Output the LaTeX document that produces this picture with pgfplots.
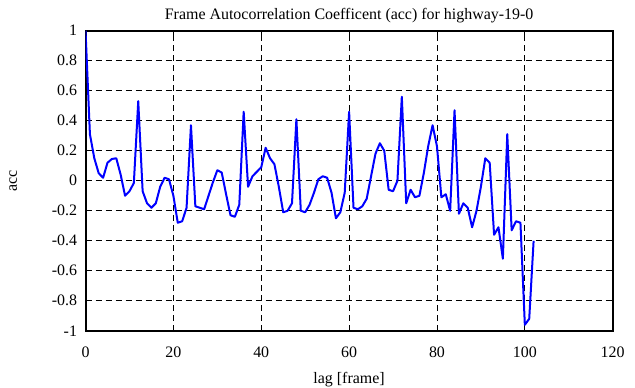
\documentclass[border=0pt]{standalone}
\usepackage{pgfplots}
\pgfplotsset{compat=1.18}
\usepackage{fontspec}
\setmainfont{Liberation Serif}
\pgfplotstableread{
lag acc
0 1.00
1 0.31
2 0.15
3 0.05
4 0.02
5 0.12
6 0.145
7 0.15
8 0.04
9 -0.10
10 -0.07
11 -0.015
12 0.53
13 -0.07
14 -0.15
15 -0.18
16 -0.15
17 -0.04
18 0.02
19 0.01
20 -0.10
21 -0.28
22 -0.27
23 -0.18
24 0.37
25 -0.17
26 -0.18
27 -0.19
28 -0.10
29 -0.01
30 0.07
31 0.055
32 -0.09
33 -0.23
34 -0.24
35 -0.16
36 0.46
37 -0.04
38 0.03
39 0.06
40 0.09
41 0.22
42 0.15
43 0.11
44 -0.04
45 -0.21
46 -0.20
47 -0.15
48 0.41
49 -0.20
50 -0.21
51 -0.16
52 -0.08
53 0.01
54 0.03
55 0.02
56 -0.08
57 -0.25
58 -0.21
59 -0.08
60 0.46
61 -0.18
62 -0.19
63 -0.17
64 -0.12
65 0.03
66 0.18
67 0.25
68 0.20
69 -0.06
70 -0.07
71 0.00
72 0.56
73 -0.15
74 -0.06
75 -0.11
76 -0.10
77 0.05
78 0.23
79 0.37
80 0.23
81 -0.11
82 -0.09
83 -0.20
84 0.47
85 -0.22
86 -0.15
87 -0.18
88 -0.31
89 -0.20
90 -0.04
91 0.15
92 0.12
93 -0.36
94 -0.31
95 -0.52
96 0.31
97 -0.33
98 -0.27
99 -0.28
100 -0.96
101 -0.92
102 -0.40
}\accdata
\begin{document}
\begin{tikzpicture}[x=1bp,y=1bp]
\begin{axis}[
  scale only axis,
  width=527bp, height=300bp,
  xmin=0, xmax=120, ymin=-1, ymax=1,
  xtick={0,20,40,60,80,100,120},
  xticklabels={0,20,40,60,80,100,120},
  ytick={-1,-0.8,-0.6,-0.4,-0.2,0,0.2,0.4,0.6,0.8,1},
  yticklabels={-1,-0.8,-0.6,-0.4,-0.2,0,0.2,0.4,0.6,0.8,1},
  tick align=inside,
  major tick length=4bp,
  tick style={black, line width=0.8bp},
  axis line style={black, line width=2bp},
  grid=major,
  major grid style={black, line width=0.8bp, dash pattern=on 6bp off 4bp},
  ticklabel style={font=\fontsize{16}{18}\selectfont},
  xticklabel style={yshift=-13bp},
  yticklabel style={xshift=-5bp},
  title={Frame Autocorrelation Coefficent (acc) for highway-19-0},
  title style={font=\fontsize{16}{18}\selectfont, yshift=-2bp},
  xlabel={lag [frame]},
  ylabel={acc},
  label style={font=\fontsize{16}{18}\selectfont},
  xlabel style={yshift=-7bp},
  ylabel style={yshift=28bp},
]
\addplot[blue, line width=2bp, line join=round] table[x=lag, y=acc] {\accdata};
\end{axis}
\pgfresetboundingbox
\path[use as bounding box] (current axis.south west) ++(-85.5bp,-56.3bp) rectangle ([xshift=22.3bp, yshift=30.7bp]current axis.north east);
\end{tikzpicture}
\end{document}
